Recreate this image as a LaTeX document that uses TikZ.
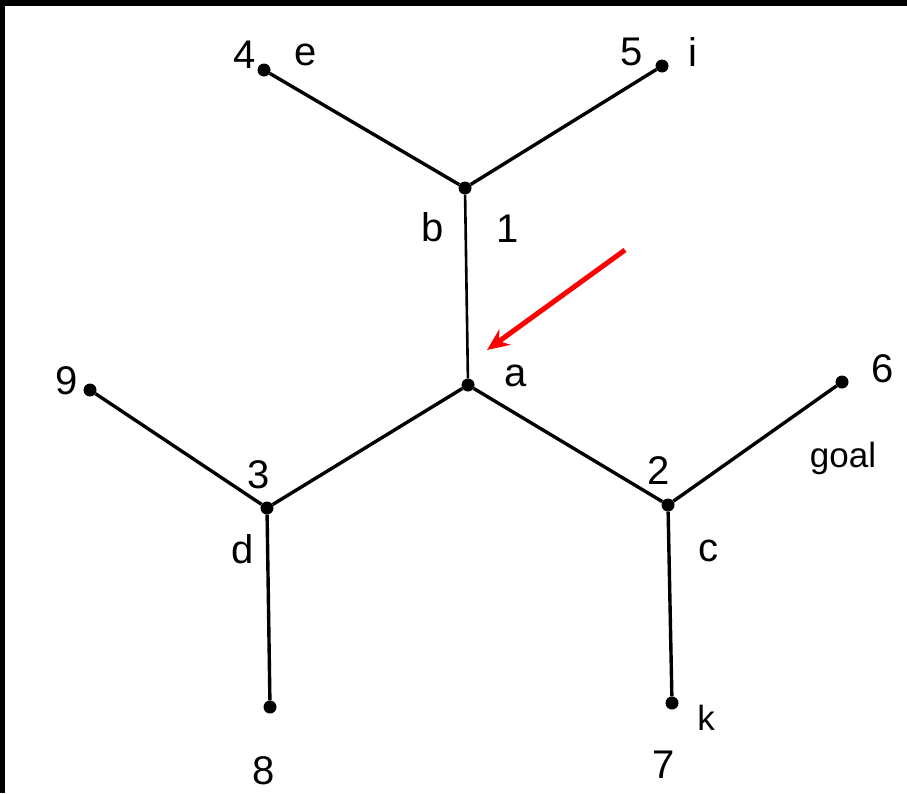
\documentclass[tikz,border=0pt]{standalone}
\usepackage{fontspec}
\setmainfont{Liberation Sans}
\usetikzlibrary{arrows.meta}
\begin{document}
\begin{tikzpicture}[x=1pt,y=-1pt,
  vtx/.style={circle,fill=black,inner sep=0pt,minimum size=13pt},
  edge/.style={line width=3.4pt,black},
  lbl/.style={font=\fontsize{40}{46}\selectfont,inner sep=0pt},
  lbls/.style={font=\fontsize{35}{40}\selectfont,inner sep=0pt}]
\useasboundingbox (0,0) rectangle (907,793);
\fill[white] (0,0) rectangle (907,793);
\fill[black] (0,0) rectangle (907,6);
\fill[black] (0,0) rectangle (5,793);
% vertices
\node[vtx] (n4) at (264,70) {};
\node[vtx] (n5) at (662,66) {};
\node[vtx] (n1) at (465,188) {};
\node[vtx] (na) at (468,385) {};
\node[vtx] (n9) at (90,390) {};
\node[vtx] (n3) at (267,508) {};
\node[vtx] (n2) at (668,505) {};
\node[vtx] (n6) at (842,382) {};
\node[vtx] (n8) at (270,707) {};
\node[vtx] (n7) at (672,703) {};
% edges
\draw[edge] (n4) -- (n1);
\draw[edge] (n5) -- (n1);
\draw[edge,line width=2.6pt] (n1) -- (na);
\draw[edge] (na) -- (n3);
\draw[edge] (na) -- (n2);
\draw[edge] (n9) -- (n3);
\draw[edge] (n6) -- (n2);
\draw[edge] (n3) -- (n8);
\draw[edge] (n2) -- (n7);
% labels
\node[lbl] (l4) at (245,55) {4};
\node[lbl] (le) at (306,55) {e};
\node[lbl] (l5) at (632,52) {5};
\node[lbl] (li) at (693,52) {i};
\node[lbl] (lb) at (433,227) {b};
\node[lbl] (l1) at (508,229) {1};
\node[lbl] (la) at (516,376) {a};
\node[lbl] (l9) at (67,381) {9};
\node[lbl] (l3) at (259,475) {3};
\node[lbl] (ld) at (243,549) {d};
\node[lbl] (l2) at (659,471) {2};
\node[lbl] (lc) at (708,551) {c};
\node[lbl] (l6) at (883,369) {6};
\node[lbls] (lgoal) at (843,458) {goal};
\node[lbl] (l8) at (264,771) {8};
\node[lbl] (l7) at (664,765) {7};
\node[lbls] (lk) at (706,718) {k};
% red arrow
\coordinate (rs) at (625,250);
\coordinate (re) at (487,350);
\draw[red,line width=5pt,-{Stealth[length=22pt,width=19pt]}] (rs) -- (re);
\end{tikzpicture}
\end{document}
